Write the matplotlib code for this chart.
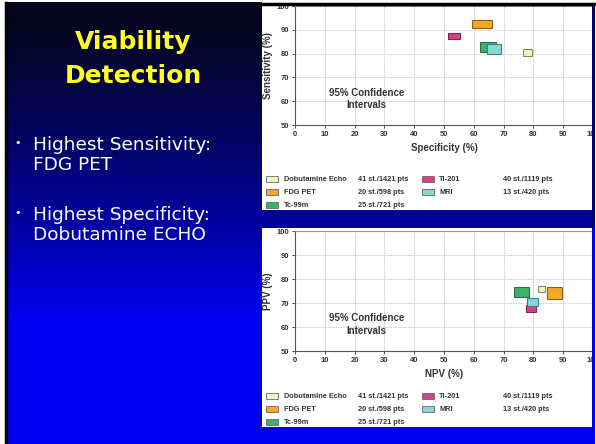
import numpy as np
import matplotlib
matplotlib.use("Agg")
import matplotlib.pyplot as plt
from matplotlib.patches import Rectangle

# modalities and their 95% confidence boxes
names = ["Dobutamine Echo", "Tc-99m", "Tl-201", "MRI", "FDG PET"]
colors = ["#f3f3c4", "#3bb26e", "#d8408c", "#86d8d8", "#f5a828"]
edges = ["#8a8a55", "#2d6e48", "#7a2950", "#3f8080", "#8a6020"]
studies = {"Dobutamine Echo": "41 st./1421 pts", "FDG PET": "20 st./598 pts",
           "Tc-99m": "25 st./721 pts", "Tl-201": "40 st./1119 pts",
           "MRI": "13 st./420 pts"}

spec_lo = [76.5, 62.0, 51.5, 64.5, 59.5]
spec_hi = [79.5, 67.5, 55.5, 69.0, 66.0]
sens_lo = [79.2, 80.5, 86.2, 80.0, 90.6]
sens_hi = [81.8, 84.8, 88.8, 83.9, 94.0]

npv_lo = [81.5, 73.5, 77.5, 78.0, 84.5]
npv_hi = [84.0, 78.5, 81.0, 81.5, 89.5]
ppv_lo = [74.4, 72.5, 66.2, 68.6, 71.6]
ppv_hi = [77.1, 76.8, 69.3, 72.2, 76.5]

legend_left = ["Dobutamine Echo", "FDG PET", "Tc-99m"]
legend_right = ["Tl-201", "MRI"]

W, H = 596, 444
fig = plt.figure(figsize=(W / 100, H / 100), dpi=100)
fig.patch.set_facecolor("white")
cfont = "Liberation Sans"

# slide background in pixel coordinates
bg = fig.add_axes([0, 0, 1, 1])
bg.set_xlim(0, W)
bg.set_ylim(H, 0)
bg.axis("off")
t = np.clip(np.linspace(0, 1, 300) / 0.72, 0, 1) ** 1.25
grad = np.zeros((300, 1, 3))
grad[:, 0, 2] = 0.1 + 0.84 * t
grad[:, 0, 0] = 0.02 * (1 - t)
grad[:, 0, 1] = 0.02 * (1 - t)
bg.imshow(grad, extent=[6, 595, 444, 3], aspect="auto", zorder=0)
bg.plot([6, 6], [3, 444], color="black", lw=2.5, zorder=1)

# white chart panels
bg.add_patch(Rectangle((262, 5), 330, 205, facecolor="white", edgecolor="none", zorder=1))
bg.add_patch(Rectangle((262, 228), 330, 199, facecolor="white", edgecolor="none", zorder=1))

bg.text(133, 42, "Viability", color="#ffff22", fontsize=18, fontweight="bold",
        ha="center", va="center")
bg.text(133, 76, "Detection", color="#ffff22", fontsize=18, fontweight="bold",
        ha="center", va="center")
bullets = [(145, "Highest Sensitivity:", "FDG PET"),
           (215, "Highest Specificity:", "Dobutamine ECHO")]
for y0, l1, l2 in bullets:
    bg.text(14, y0 - 2, "\u2022", color="white", fontsize=8, va="center")
    bg.text(33, y0, l1, color="white", fontsize=13.3, va="center")
    bg.text(33, y0 + 20, l2, color="white", fontsize=13.3, va="center")


def chart(top, bottom, xlab, ylab, xlo, xhi, ylo, yhi, leg_y):
    ax = fig.add_axes([295 / W, 1 - bottom / H, 298 / W, (bottom - top) / H])
    ax.set_xlim(0, 100)
    ax.set_ylim(50, 100)
    ax.set_xticks(range(0, 101, 10))
    ax.set_yticks(range(50, 101, 10))
    ax.grid(True, color="#c8c8c8", lw=0.6, linestyle=(0, (2, 1)))
    ax.set_axisbelow(True)
    ax.tick_params(labelsize=5.5, colors="#333333", length=2, width=0.6, pad=2)
    for lab in ax.get_xticklabels() + ax.get_yticklabels():
        lab.set_fontweight("bold")
        lab.set_family(cfont)
    for s in ["left", "bottom"]:
        ax.spines[s].set_color("#555555")
        ax.spines[s].set_linewidth(0.8)
    for s in ["top", "right"]:
        ax.spines[s].set_color("#999999")
        ax.spines[s].set_linewidth(0.8)
    ax.set_xlabel(xlab, fontsize=7, fontweight="bold", color="#333333", labelpad=4,
                  family=cfont)
    ax.set_ylabel(ylab, fontsize=7, fontweight="bold", color="#333333", labelpad=3,
                  family=cfont)
    for i, n in enumerate(names):
        ax.add_patch(Rectangle((xlo[i], ylo[i]), xhi[i] - xlo[i], yhi[i] - ylo[i],
                               facecolor=colors[i], edgecolor=edges[i], lw=0.8, zorder=3))
    ax.text(24, 61, "95% Confidence\nIntervals", fontsize=7, fontweight="bold",
            color="#333333", ha="center", va="center", linespacing=1.3, family=cfont)

    for j, n in enumerate(legend_left):
        y = leg_y + j * 13
        c = colors[names.index(n)]
        bg.add_patch(Rectangle((266, y - 3), 12, 6, facecolor=c, edgecolor="#666666",
                               lw=0.6, zorder=3))
        bg.text(284, y, n, fontsize=5.3, fontweight="bold", color="#333333", va="center",
                family=cfont)
        bg.text(358, y, studies[n], fontsize=5.3, fontweight="bold", color="#333333",
                va="center", family=cfont)
    for j, n in enumerate(legend_right):
        y = leg_y + j * 13
        c = colors[names.index(n)]
        bg.add_patch(Rectangle((422, y - 3), 12, 6, facecolor=c, edgecolor="#666666",
                               lw=0.6, zorder=3))
        bg.text(439, y, n, fontsize=5.3, fontweight="bold", color="#333333", va="center",
                family=cfont)
        bg.text(503, y, studies[n], fontsize=5.3, fontweight="bold", color="#333333",
                va="center", family=cfont)
    return ax


chart(6, 125, "Specificity (%)", "Sensitivity (%)", spec_lo, spec_hi, sens_lo, sens_hi, 179)
chart(231, 351, "NPV (%)", "PPV (%)", npv_lo, npv_hi, ppv_lo, ppv_hi, 396)

# clip strips over the panel edges
cover = fig.add_axes([0, 0, 1, 1], zorder=10)
cover.set_xlim(0, W)
cover.set_ylim(H, 0)
cover.axis("off")
cover.add_patch(Rectangle((592, 0), 3, 230, facecolor="#000070", edgecolor="none"))
cover.add_patch(Rectangle((592, 228), 3, 216, facecolor="#0000ee", edgecolor="none"))
cover.add_patch(Rectangle((595, 0), 1, 444, facecolor="white", edgecolor="none"))
cover.add_patch(Rectangle((262, 0), 334, 3, facecolor="white", edgecolor="none"))
cover.plot([262, 595], [4.5, 4.5], color="black", lw=2.5)

fig.savefig("out.png", dpi=100)
